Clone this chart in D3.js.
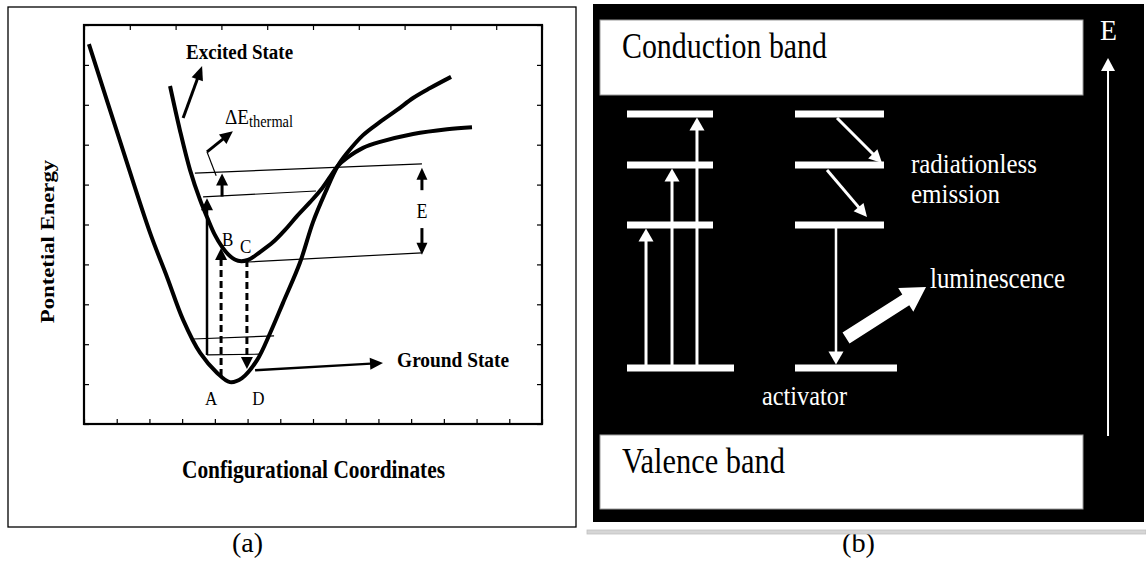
<!DOCTYPE html>
<html><head><meta charset="utf-8">
<script src="https://cdn.jsdelivr.net/npm/d3@7"></script>
<style>body{margin:0;background:#fff}svg{display:block}</style>
</head><body>
<svg id="c" width="1146" height="561"></svg>
<script>
// ---------- DATA (left panel: configurational coordinate 0-14, energy 0-10) ----------
const xTicksBottom = d3.range(0, 15, 1);
const xTicksTop = d3.range(0, 11).map(i => i * 1.4);
const yTicks = d3.range(0, 11, 1);

const groundState = [[0.15,9.52],[1.16,6.94],[2.02,4.79],[2.54,3.68],[3.03,2.61],[3.55,1.78],[4.07,1.28],[4.46,1.05],[4.83,1.15],[5.29,1.60],[5.69,2.28],[6.08,3.03],[6.60,4.04],[7.00,5.06],[7.37,5.79],[7.76,6.47],[8.04,6.79],[8.53,7.24],[9.05,7.57],[9.57,7.87],[10.06,8.17],[10.58,8.42],[11.22,8.70]];
const excitedState = [[2.63,8.47],[2.93,7.37],[3.24,6.37],[3.55,5.61],[3.76,5.19],[4.00,4.74],[4.22,4.44],[4.46,4.21],[4.71,4.09],[5.01,4.11],[5.38,4.31],[5.78,4.56],[6.14,4.86],[6.51,5.21],[6.91,5.56],[7.28,5.91],[7.52,6.19],[7.76,6.47],[8.04,6.67],[8.53,6.92],[9.05,7.07],[10.06,7.27],[11.10,7.39],[11.86,7.44]];

const excitedLevels = [[3.39,6.29,10.33,6.52],[3.64,5.69,7.09,5.84],[5.01,4.06,10.33,4.29]];
const groundLevels = [[3.33,2.13,5.81,2.21],[3.76,1.73,5.38,1.75]];

// solid arrows [x1,y1,x2,y2]
const absorptionArrow = [3.76,1.73,3.76,5.66];
const thermalArrow = [4.22,5.70,4.22,6.28];
const dashedArrows = [[4.19,1.20,4.19,4.41],[4.98,4.11,4.98,1.38]];
const groundPointer = [5.23,1.35,9.14,1.53];
const excitedPointer = [3.03,7.67,3.61,8.97];
const thermalPointer = [[4.04,6.22],[3.76,6.82],[4.55,7.34]];
const energyGapX = 10.33;
const energyGapArrows = [[5.86,6.42],[4.91,4.24]];

const pointLabels = [["A",3.70,0.48],["D",5.14,0.48],["B",4.22,4.46],["C",4.77,4.29]];

// ---------- DATA (right panel: horizontal position 0-100, energy 0-100) ----------
const conductionBand = [1.27, 88.93, 82.43, 96.91];
const valenceBand = [1.27, 88.93, 2.51, 16.80];
const levelEnergies = [29.73, 57.34, 68.92, 78.76];
const levelColumns = [[6.17, 21.78, 25.59],[36.66, 52.81, 55.17]];
const excitationX = [9.62, 14.34, 18.87];
const emissionX = 44.10;
const relaxArrows = [[44.28,77.99,52.45,69.31],[42.47,67.95,49.73,58.88]];
const lumArrow = [45.92,35.52,60.44,45.37];
const energyAxis = [93.47,16.60,89.58];

// ---------- DRAWING ----------
const svg = d3.select('#c');
const FONT = "'Liberation Serif','Times New Roman',serif";
const SY = 1.15;

function label(g, x, y, s, o = {}) {
  const t = g.append('text').attr('x', 0).attr('y', 0).text(s)
    .attr('font-family', FONT).attr('font-size', o.size || 20)
    .attr('font-weight', o.weight || 'normal').attr('fill', o.fill || '#000')
    .attr('text-anchor', o.anchor || 'start')
    .attr('transform', `translate(${x},${y}) scale(1,${SY})` + (o.rot ? ` rotate(${o.rot})` : ''));
  if (o.len) t.attr('textLength', o.len).attr('lengthAdjust', 'spacingAndGlyphs');
  return t;
}
function arrow(g, x1, y1, x2, y2, o = {}) {
  const col = o.color || '#000', w = o.width || 3, hl = o.headLen || 12, hw = o.headW || 12;
  const dx = x2 - x1, dy = y2 - y1, L = Math.hypot(dx, dy), ux = dx / L, uy = dy / L;
  const bx = x2 - ux * hl, by = y2 - uy * hl;
  const ln = g.append('line').attr('x1', x1).attr('y1', y1).attr('x2', bx + ux).attr('y2', by + uy)
    .attr('stroke', col).attr('stroke-width', w);
  if (o.dash) ln.attr('stroke-dasharray', o.dash);
  const px = -uy, py = ux;
  g.append('path').attr('d', `M${x2},${y2}L${bx + px * hw / 2},${by + py * hw / 2}L${bx - px * hw / 2},${by - py * hw / 2}Z`).attr('fill', col);
}

// ===== Left panel =====
const L = svg.append('g');
L.append('rect').attr('x', 8).attr('y', 7).attr('width', 568).attr('height', 520)
  .attr('fill', 'none').attr('stroke', '#000').attr('stroke-width', 1.3);

const x = d3.scaleLinear().domain([0, 14]).range([84, 542]);
const y = d3.scaleLinear().domain([0, 10]).range([424, 25]);

function styleAxis(sel) {
  sel.select('.domain').remove();
  sel.selectAll('.tick line').attr('stroke', '#000').attr('stroke-width', 1.2);
}
L.append('g').attr('transform', `translate(0,${y(0)})`)
  .call(d3.axisBottom(x).tickValues(xTicksBottom).tickSize(-5).tickFormat('')).call(styleAxis);
L.append('g').attr('transform', `translate(0,${y(10)})`)
  .call(d3.axisTop(x).tickValues(xTicksTop).tickSize(-5).tickFormat('')).call(styleAxis);
L.append('g').attr('transform', `translate(${x(0)},0)`)
  .call(d3.axisLeft(y).tickValues(yTicks).tickSize(-5).tickFormat('')).call(styleAxis);
L.append('g').attr('transform', `translate(${x(14)},0)`)
  .call(d3.axisRight(y).tickValues(yTicks).tickSize(-5).tickFormat('')).call(styleAxis);
L.append('rect').attr('x', x(0)).attr('y', y(10)).attr('width', x(14) - x(0)).attr('height', y(0) - y(10))
  .attr('fill', 'none').attr('stroke', '#000').attr('stroke-width', 2.2);

const curve = d3.line().x(d => x(d[0])).y(d => y(d[1])).curve(d3.curveCatmullRom.alpha(0.5));
[groundState, excitedState].forEach(s =>
  L.append('path').attr('d', curve(s)).attr('fill', 'none').attr('stroke', '#000')
    .attr('stroke-width', 4).attr('stroke-linecap', 'butt'));

excitedLevels.concat(groundLevels).forEach(l =>
  L.append('line').attr('x1', x(l[0])).attr('y1', y(l[1])).attr('x2', x(l[2])).attr('y2', y(l[3]))
    .attr('stroke', '#000').attr('stroke-width', 1.2));

arrow(L, x(absorptionArrow[0]), y(absorptionArrow[1]), x(absorptionArrow[2]), y(absorptionArrow[3]), {width: 2.5, headLen: 12, headW: 12});
arrow(L, x(thermalArrow[0]), y(thermalArrow[1]), x(thermalArrow[2]), y(thermalArrow[3]), {width: 3, headLen: 12, headW: 12});
dashedArrows.forEach(a => arrow(L, x(a[0]), y(a[1]), x(a[2]), y(a[3]), {width: 3, headLen: 12, headW: 12, dash: '7,4'}));
arrow(L, x(groundPointer[0]), y(groundPointer[1]), x(groundPointer[2]), y(groundPointer[3]), {width: 2.5, headLen: 13, headW: 12});
arrow(L, x(excitedPointer[0]), y(excitedPointer[1]), x(excitedPointer[2]), y(excitedPointer[3]), {width: 3, headLen: 14, headW: 12});
L.append('line').attr('x1', x(thermalPointer[0][0])).attr('y1', y(thermalPointer[0][1]))
  .attr('x2', x(thermalPointer[1][0])).attr('y2', y(thermalPointer[1][1])).attr('stroke', '#000').attr('stroke-width', 1.2);
arrow(L, x(thermalPointer[1][0]), y(thermalPointer[1][1]), x(thermalPointer[2][0]), y(thermalPointer[2][1]), {width: 3, headLen: 13, headW: 12});
energyGapArrows.forEach(a => arrow(L, x(energyGapX), y(a[0]), x(energyGapX), y(a[1]), {width: 3, headLen: 12, headW: 11}));

label(L, x(energyGapX), y(5.16), 'E', {size: 18, anchor: 'middle'});
pointLabels.forEach(p => label(L, x(p[1]), y(p[2]), p[0], {size: 17}));
label(L, x(3.12), y(9.15), 'Excited State', {size: 19, weight: 'bold', len: 107});
label(L, x(9.57), y(1.43), 'Ground State', {size: 19, weight: 'bold', len: 112});
label(L, x(4.31), y(7.52), 'ΔE', {size: 18, len: 24});
label(L, x(4.31) + 24, y(7.52) + 3, 'thermal', {size: 14, len: 44});
label(L, 182, 478, 'Configurational Coordinates', {size: 21, weight: 'bold', len: 263});
label(L, 54, 241.5, 'Pontetial Energy', {size: 19, weight: 'bold', anchor: 'middle', rot: -90, len: 142});
label(svg, 232, 552, '(a)', {size: 24, len: 31});
label(svg, 842, 552, '(b)', {size: 24, len: 33});

// ===== Right panel =====
const R = svg.append('g');
const rx = d3.scaleLinear().domain([0, 100]).range([593, 1144]);
const ry = d3.scaleLinear().domain([0, 100]).range([522, 4]);

svg.append('rect').attr('x', 587).attr('y', 530).attr('width', 559).attr('height', 4)
  .attr('fill', '#d6d6d6').attr('stroke', '#c0c0c0').attr('stroke-width', 0.8);

R.append('rect').attr('x', rx(0)).attr('y', ry(100)).attr('width', rx(100) - rx(0)).attr('height', ry(0) - ry(100)).attr('fill', '#000');
[conductionBand, valenceBand].forEach(b =>
  R.append('rect').attr('x', rx(b[0])).attr('y', ry(b[3])).attr('width', rx(b[1]) - rx(b[0])).attr('height', ry(b[2]) - ry(b[3]))
    .attr('fill', '#fff').attr('stroke', '#999').attr('stroke-width', 1));
label(R, rx(5.26), ry(89.58), 'Conduction band', {size: 31, len: 205});
label(R, rx(5.26), ry(9.46), 'Valence band', {size: 31, len: 163});

levelColumns.forEach(c => levelEnergies.forEach((e, i) =>
  R.append('line').attr('x1', rx(c[0])).attr('x2', rx(i === 0 ? c[2] : c[1])).attr('y1', ry(e)).attr('y2', ry(e))
    .attr('stroke', '#fff').attr('stroke-width', 7)));

excitationX.forEach((ex, i) => arrow(R, rx(ex), ry(levelEnergies[0]), rx(ex), ry(levelEnergies[i + 1]) + 3.5,
  {color: '#fff', width: 3, headLen: 13, headW: 15}));
arrow(R, rx(emissionX), ry(levelEnergies[1]), rx(emissionX), ry(levelEnergies[0]) - 3.5, {color: '#fff', width: 2.5, headLen: 13, headW: 15});
relaxArrows.forEach(a => arrow(R, rx(a[0]), ry(a[1]), rx(a[2]), ry(a[3]), {color: '#fff', width: 3, headLen: 13, headW: 13}));

// fat luminescence arrow
(function () {
  const x1 = rx(lumArrow[0]), y1 = ry(lumArrow[1]), x2 = rx(lumArrow[2]), y2 = ry(lumArrow[3]);
  const dx = x2 - x1, dy = y2 - y1, Ln = Math.hypot(dx, dy), ux = dx / Ln, uy = dy / Ln, px = -uy, py = ux;
  const hl = 24, hw = 28, sw = 13, bx = x2 - ux * hl, by = y2 - uy * hl;
  const pts = [[x1 + px * sw / 2, y1 + py * sw / 2], [bx + px * sw / 2, by + py * sw / 2], [bx + px * hw / 2, by + py * hw / 2], [x2, y2],
    [bx - px * hw / 2, by - py * hw / 2], [bx - px * sw / 2, by - py * sw / 2], [x1 - px * sw / 2, y1 - py * sw / 2]];
  R.append('path').attr('d', 'M' + pts.map(p => p.join(',')).join('L') + 'Z').attr('fill', '#fff');
})();

arrow(R, rx(energyAxis[0]), ry(energyAxis[1]), rx(energyAxis[0]), ry(energyAxis[2]), {color: '#fff', width: 2, headLen: 13, headW: 14});

label(R, rx(57.71), ry(67.37), 'radiationless', {size: 24, fill: '#fff', len: 126});
label(R, rx(57.71), ry(61.58), 'emission', {size: 24, fill: '#fff', len: 89});
label(R, rx(61.16), ry(45.17), 'luminescence', {size: 25, fill: '#fff', len: 135});
label(R, rx(30.67), ry(22.59), 'activator', {size: 24, fill: '#fff', len: 85});
label(R, rx(92.01), ry(93.05), 'E', {size: 25, fill: '#fff', len: 17});
</script>
</body></html>
